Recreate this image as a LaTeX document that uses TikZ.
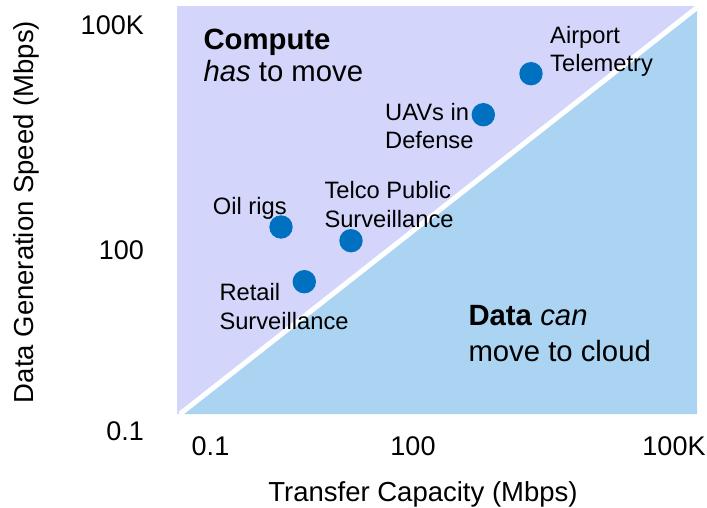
\documentclass[tikz,border=0pt]{standalone}
\usepackage{fontspec}
\setmainfont{Liberation Sans}
\definecolor{lavender}{RGB}{211,214,250}
\definecolor{skyblue}{RGB}{171,211,242}
\definecolor{dotblue}{RGB}{0,112,192}
\begin{document}
\begin{tikzpicture}[x=1pt,y=-1pt,
  dot/.style={circle,fill=dotblue,minimum size=23.4pt,inner sep=0pt},
  lbl/.style={font=\fontsize{23.7}{28.8}\selectfont,align=left,anchor=base west,inner sep=0pt},
  head/.style={font=\fontsize{29.3}{31.7}\selectfont,align=left,anchor=base west,inner sep=0pt},
  tick/.style={font=\fontsize{27}{32}\selectfont,inner sep=0pt},
  axtitle/.style={font=\fontsize{27.5}{32}\selectfont,inner sep=0pt,anchor=base}]
\useasboundingbox (0,0) rectangle (707,508);

% two regions split by the diagonal
\fill[lavender] (177,6) rectangle (697,414);
\begin{scope}
  \clip (177,6) rectangle (697,414);
  \fill[skyblue] (180,414) -- (699,6) -- (720,6) -- (720,414) -- cycle;
  \draw[white,line width=5pt] (180,414) -- (699,6);
\end{scope}

% region captions (anchored on the baseline of their last line)
\node[head] (compute) at (203.3,81.7) {\textbf{Compute}\\\textit{has} to move};
\node[head,font=\fontsize{29.3}{36.7}\selectfont] (cloud) at (468.3,361.7) {\textbf{Data} \textit{can}\\move to cloud};

% use cases
\node[dot] (airport) at (531,73.7) {};
\node[dot] (uav) at (483.3,114.7) {};
\node[dot] (oil) at (281,227) {};
\node[dot] (telco) at (351,240.7) {};
\node[dot] (retail) at (304.3,281.7) {};

\node[lbl,font=\fontsize{23.7}{28.4}\selectfont] (airportlbl) at (550,71.7) {Airport\\Telemetry};
\node[lbl,font=\fontsize{23.7}{27.3}\selectfont] (uavlbl) at (385,148.3) {UAVs in\\Defense};
\node[lbl,font=\fontsize{23.7}{29}\selectfont] (telcolbl) at (324.3,227.3) {Telco Public\\Surveillance};
\node[lbl] (oillbl) at (212.7,214.3) {Oil rigs};
\node[lbl,font=\fontsize{23.7}{29.3}\selectfont] (retaillbl) at (219.3,329.3) {Retail\\Surveillance};

% axis ticks
\node[tick,anchor=base east] (y3) at (144,35) {100K};
\node[tick,anchor=base east] (y2) at (144,259) {100};
\node[tick,anchor=base east] (y1) at (144,440) {0.1};
\node[tick,anchor=base] (x1) at (210.5,455) {0.1};
\node[tick,anchor=base] (x2) at (413,455) {100};
\node[tick,anchor=base] (x3) at (674,455) {100K};

% axis titles
\node[axtitle] (xtitle) at (423,501.7) {Transfer Capacity (Mbps)};
\node[axtitle,rotate=90] (ytitle) at (33.3,212) {Data Generation Speed (Mbps)};
\end{tikzpicture}
\end{document}
